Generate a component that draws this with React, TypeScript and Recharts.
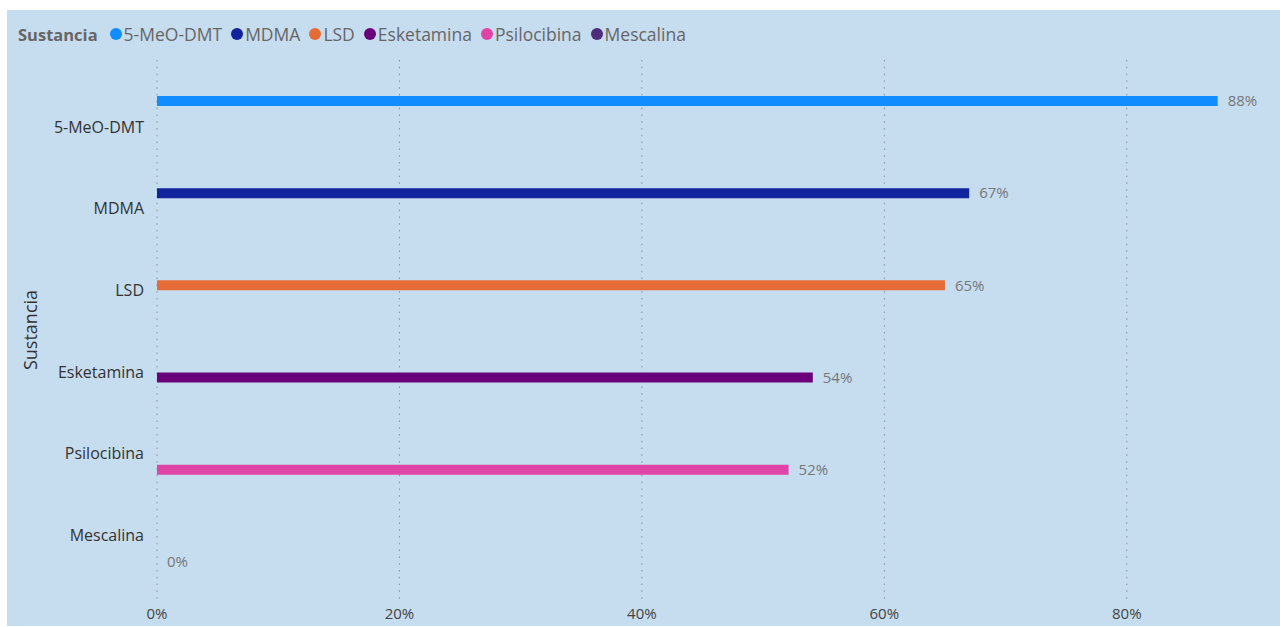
import React from 'react'
import {
  BarChart,
  Bar,
  XAxis,
  YAxis,
  CartesianGrid,
  LabelList,
  Label,
} from 'recharts'

const categories = ['5-MeO-DMT', 'MDMA', 'LSD', 'Esketamina', 'Psilocibina', 'Mescalina']
const values = [0.875, 0.67, 0.65, 0.541, 0.521, 0]
const COLORS = ['#118DFF', '#12239E', '#E66C37', '#6B007B', '#E044A7', '#4E2C7C']
const xTicks = [0, 0.2, 0.4, 0.6, 0.8]

const FONT = '"Open Sans", "Noto Sans", sans-serif'
const BG = '#C6DCEF'

// one row per substance, each series only has its own value
const data = categories.map((name, i) => {
  const row: Record<string, string | number> = { name }
  row[name] = values[i]
  return row
})

const pct = (v: any) =>
  v === null || v === undefined ? '' : `${Math.round(Number(v) * 100)}%`

function LegendRow() {
  return (
    <div
      style={{
        position: 'absolute',
        left: 11,
        top: 12,
        display: 'flex',
        alignItems: 'center',
        fontFamily: FONT,
        fontSize: 17.5,
        color: '#666',
        whiteSpace: 'nowrap',
      }}
    >
      <span style={{ fontWeight: 700, fontSize: 16.5, marginRight: 12 }}>
        Sustancia
      </span>
      {categories.map((c, i) => (
        <span
          key={c}
          style={{ display: 'flex', alignItems: 'center', marginRight: 9 }}
        >
          <span
            style={{
              width: 12,
              height: 12,
              borderRadius: '50%',
              background: COLORS[i],
              marginRight: 2,
              display: 'inline-block',
            }}
          />
          {c}
        </span>
      ))}
    </div>
  )
}

export default function App() {
  return (
    <div
      style={{
        position: 'absolute',
        left: 7,
        top: 10,
        width: 1273,
        height: 616,
        background: BG,
      }}
    >
      <LegendRow />
      <BarChart
        width={1273}
        height={616}
        data={data}
        layout="vertical"
        barSize={10}
        barGap={0.5}
        margin={{ top: 50, right: 32, bottom: 0, left: 0 }}
      >
        <CartesianGrid
          horizontal={false}
          syncWithTicks
          stroke="#8c9198"
          strokeDasharray="1.5 5.3"
        />
        <XAxis
          type="number"
          domain={[0, 0.9]}
          ticks={xTicks}
          tickFormatter={pct}
          axisLine={false}
          tickLine={false}
          height={26}
          tick={{ fill: '#444', fontSize: 15, fontFamily: FONT }}
        />
        <YAxis
          type="category"
          dataKey="name"
          width={150}
          axisLine={false}
          tickLine={false}
          tickMargin={7}
          padding={{ top: 26, bottom: 24 }}
          tick={{ fill: '#333', fontSize: 16, fontFamily: FONT }}
        >
          <Label
            content={({ viewBox }: any) => (
              <text
                x={viewBox.x + 30}
                y={viewBox.y + viewBox.height / 2}
                transform={`rotate(-90, ${viewBox.x + 30}, ${viewBox.y + viewBox.height / 2})`}
                textAnchor="middle"
                fill="#333"
                fontSize={18}
                fontFamily={FONT}
              >
                Sustancia
              </text>
            )}
          />
        </YAxis>
        {categories.map((c, i) => (
          <Bar
            key={c}
            dataKey={c}
            fill={COLORS[i]}
            minPointSize={(v: any) => (v === 0 ? 0.01 : 0)}
            isAnimationActive={false}
          >
            <LabelList
              dataKey={c}
              position="right"
              offset={10}
              formatter={pct}
              fill="#777"
              fontSize={15}
              fontFamily={FONT}
            />
          </Bar>
        ))}
      </BarChart>
    </div>
  )
}
